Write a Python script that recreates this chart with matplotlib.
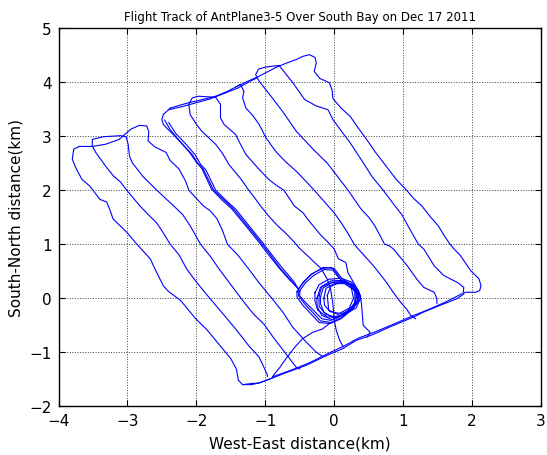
import numpy as np
import matplotlib
matplotlib.use("Agg")
import matplotlib.pyplot as plt

plt.rcParams['font.family'] = ['DejaVu Sans']

# flight track pieces (km)
line1 = [(-3.70, 2.81), (-3.78, 2.76), (-3.80, 2.57), (-3.74, 2.39), (-3.66, 2.20), (-3.55, 2.08),
         (-3.50, 2.00), (-3.40, 1.83), (-3.30, 1.78), (-3.25, 1.62), (-3.21, 1.47), (-3.01, 1.22),
         (-2.87, 1.01), (-2.67, 0.73), (-2.60, 0.54), (-2.48, 0.23), (-2.40, 0.12), (-2.23, -0.04),
         (-2.01, -0.38), (-1.85, -0.58), (-1.72, -0.78), (-1.50, -1.12), (-1.42, -1.31), (-1.39, -1.52),
         (-1.33, -1.60), (-1.20, -1.58), (-1.09, -1.57), (-0.90, -1.48)]

line4 = [(-3.70, 2.81), (-3.51, 2.81), (-3.32, 2.85), (-3.12, 2.94), (-2.95, 3.13), (-2.83, 3.20),
         (-2.72, 3.19), (-2.69, 3.08), (-2.70, 2.91), (-2.60, 2.80), (-2.44, 2.70), (-2.38, 2.55),
         (-2.25, 2.39), (-2.15, 2.15), (-2.11, 2.00), (-1.90, 1.71), (-1.80, 1.62), (-1.70, 1.47),
         (-1.62, 1.25), (-1.55, 1.00), (-1.40, 0.80), (-1.24, 0.54), (-1.10, 0.30), (-0.90, -0.01),
         (-0.75, -0.25), (-0.60, -0.54), (-0.43, -0.78), (-0.26, -1.00), (-0.18, -1.07)]

line23 = [(-0.97, -1.45), (-0.97, -1.42), (-1.02, -1.28), (-1.09, -1.09), (-1.24, -0.88), (-1.43, -0.57),
          (-1.62, -0.28), (-1.82, 0.02), (-2.00, 0.30), (-2.14, 0.54), (-2.25, 0.80), (-2.38, 1.00),
          (-2.50, 1.25), (-2.58, 1.40), (-2.70, 1.55), (-2.82, 1.71), (-3.01, 2.00), (-3.10, 2.15),
          (-3.20, 2.26), (-3.32, 2.45), (-3.46, 2.70), (-3.51, 2.82), (-3.51, 2.94), (-3.35, 2.99),
          (-3.10, 3.01), (-3.02, 2.99), (-2.99, 2.85), (-2.97, 2.63), (-2.93, 2.51), (-2.78, 2.26),
          (-2.59, 2.02), (-2.45, 1.85), (-2.33, 1.71), (-2.20, 1.55), (-2.09, 1.34), (-1.94, 1.00),
          (-1.80, 0.78), (-1.67, 0.54), (-1.50, 0.25), (-1.33, -0.04), (-1.18, -0.28), (-1.02, -0.48),
          (-0.87, -0.75), (-0.70, -1.03), (-0.55, -1.28), (-0.50, -1.31)]

transit_a = [(-2.38, 3.52), (-2.43, 3.46), (-2.48, 3.40), (-2.50, 3.31), (-2.48, 3.22), (-2.43, 3.15),
             (-2.35, 3.05), (-2.20, 2.85), (-2.06, 2.66), (-1.98, 2.50), (-1.90, 2.39), (-1.75, 2.00),
             (-1.60, 1.82), (-1.46, 1.65), (-1.26, 1.34), (-1.07, 1.04), (-0.92, 0.79), (-0.78, 0.55),
             (-0.62, 0.32), (-0.52, 0.17)]
transit_b = [(-2.40, 3.25), (-2.30, 3.05), (-2.15, 2.85), (-2.02, 2.66), (-1.94, 2.48), (-1.86, 2.37),
             (-1.72, 2.00), (-1.56, 1.80), (-1.43, 1.65), (-1.23, 1.33), (-1.04, 1.03), (-0.89, 0.78),
             (-0.74, 0.54), (-0.58, 0.30), (-0.50, 0.12)]
transit_c = [(-2.46, 3.30), (-2.38, 3.12), (-2.25, 2.92), (-2.10, 2.70), (-2.00, 2.52), (-1.92, 2.40),
             (-1.78, 2.02), (-1.63, 1.82), (-1.49, 1.66), (-1.29, 1.35), (-1.10, 1.05), (-0.95, 0.80),
             (-0.80, 0.56), (-0.64, 0.33), (-0.54, 0.20)]
transit_low = [(-0.05, -0.45), (-0.17, -0.57), (-0.31, -0.63), (-0.46, -0.75), (-0.58, -0.92),
               (-0.70, -1.12), (-0.80, -1.30), (-0.90, -1.46)]

edge_outer = [(-2.38, 3.52), (-2.25, 3.57), (-2.11, 3.62), (-1.97, 3.66), (-1.72, 3.74), (-1.55, 3.83),
              (-1.43, 3.91), (-1.25, 4.02), (-1.09, 4.11), (-0.85, 4.27), (-0.70, 4.35), (-0.55, 4.42),
              (-0.45, 4.48), (-0.36, 4.51), (-0.28, 4.46), (-0.26, 4.36), (-0.29, 4.20), (-0.21, 4.07),
              (-0.07, 3.99), (-0.03, 3.85), (-0.02, 3.70), (0.10, 3.52), (0.23, 3.37), (0.35, 3.15),
              (0.47, 2.94), (0.60, 2.70), (0.75, 2.45), (0.90, 2.20), (1.05, 2.00), (1.15, 1.85),
              (1.27, 1.71), (1.40, 1.50), (1.51, 1.34), (1.60, 1.15), (1.68, 1.00), (1.74, 0.91),
              (1.83, 0.79), (1.98, 0.51), (2.10, 0.36), (2.13, 0.23), (2.11, 0.14), (2.05, 0.11),
              (1.90, 0.11), (1.85, 0.05), (1.78, -0.01), (1.54, -0.13), (1.29, -0.26), (1.15, -0.35),
              (0.81, -0.53), (0.55, -0.68), (0.32, -0.78), (0.13, -0.93), (-0.16, -1.09), (-0.40, -1.24),
              (-0.70, -1.38), (-0.90, -1.48), (-1.09, -1.57), (-1.20, -1.60), (-1.33, -1.60)]
edge_nw_b = [(-2.40, 3.49), (-2.20, 3.55), (-2.00, 3.62), (-1.80, 3.69), (-1.60, 3.79), (-1.40, 3.89),
             (-1.20, 4.03), (-1.12, 4.08)]
edge_se_b = [(1.85, 0.08), (1.60, -0.08), (1.35, -0.22), (1.15, -0.32), (0.90, -0.46), (0.60, -0.62),
             (0.35, -0.74), (0.15, -0.88), (-0.10, -1.03), (-0.35, -1.19), (-0.60, -1.32), (-0.88, -1.45)]

line56 = [(0.13, -0.90), (0.08, -0.78), (0.03, -0.60), (0.00, -0.40), (-0.02, -0.10), (-0.05, 0.15),
          (-0.10, 0.35), (-0.19, 0.55), (-0.30, 0.68), (-0.39, 0.79), (-0.50, 0.92), (-0.58, 1.04),
          (-0.70, 1.20), (-0.82, 1.34), (-0.95, 1.52), (-1.07, 1.71), (-1.15, 1.85), (-1.24, 2.00),
          (-1.35, 2.20), (-1.53, 2.48), (-1.62, 2.68), (-1.72, 2.85), (-1.92, 3.09), (-2.00, 3.22),
          (-2.09, 3.40), (-2.11, 3.59), (-2.06, 3.71), (-1.97, 3.74), (-1.72, 3.72), (-1.65, 3.59),
          (-1.65, 3.34), (-1.60, 3.22), (-1.43, 3.03), (-1.36, 2.85), (-1.28, 2.66), (-1.10, 2.40),
          (-0.95, 2.20), (-0.85, 2.10), (-0.73, 2.00), (-0.58, 1.71), (-0.45, 1.58), (-0.39, 1.47),
          (-0.19, 1.16), (-0.10, 1.05), (0.00, 0.91), (0.06, 0.73), (0.17, 0.66), (0.20, 0.47),
          (0.30, 0.25), (0.38, 0.05), (0.40, -0.17), (0.42, -0.50), (0.52, -0.63), (0.48, -0.72)]

line7 = [(-1.43, 3.91), (-1.36, 3.96), (-1.31, 3.83), (-1.33, 3.71), (-1.28, 3.52), (-1.18, 3.38),
         (-1.09, 3.22), (-0.99, 2.97), (-0.85, 2.72), (-0.70, 2.52), (-0.55, 2.35), (-0.40, 2.15),
         (-0.29, 2.00), (-0.09, 1.71), (0.00, 1.58), (0.10, 1.40), (0.20, 1.20), (0.29, 1.00),
         (0.35, 0.91), (0.57, 0.60), (0.68, 0.42), (0.76, 0.29), (0.85, 0.12), (0.96, -0.07),
         (1.05, -0.20), (1.11, -0.32), (1.18, -0.38)]

line89 = [(1.49, -0.10), (1.49, -0.01), (1.45, 0.11), (1.30, 0.20), (1.20, 0.35), (1.06, 0.60),
          (0.86, 0.91), (0.80, 0.97), (0.73, 1.00), (0.59, 1.34), (0.50, 1.50), (0.39, 1.65),
          (0.20, 2.00), (0.05, 2.25), (-0.10, 2.50), (-0.30, 2.75), (-0.55, 3.09), (-0.75, 3.46),
          (-0.90, 3.71), (-1.09, 4.02), (-1.14, 4.14), (-1.10, 4.24), (-1.00, 4.28), (-0.80, 4.31),
          (-0.70, 4.15), (-0.60, 3.99), (-0.43, 3.68), (-0.26, 3.56), (-0.09, 3.49), (-0.02, 3.31),
          (0.10, 3.10), (0.23, 2.88), (0.40, 2.55), (0.55, 2.25), (0.71, 2.00), (0.88, 1.71),
          (0.98, 1.55), (1.07, 1.34), (1.22, 1.00), (1.30, 0.91), (1.45, 0.60), (1.59, 0.42),
          (1.79, 0.29), (1.88, 0.20), (1.87, 0.08)]

# circling over the centre
loop_outer = [(-0.52, 0.17), (-0.45, 0.30), (-0.32, 0.45), (-0.16, 0.57), (0.00, 0.55), (0.06, 0.45),
              (0.12, 0.35), (0.25, 0.25), (0.36, 0.12), (0.38, -0.02), (0.28, -0.18), (0.12, -0.35),
              (-0.05, -0.45), (-0.20, -0.42), (-0.30, -0.28), (-0.42, -0.12), (-0.52, 0.05), (-0.52, 0.17)]
loop_outer2 = [(-0.50, 0.14), (-0.42, 0.28), (-0.30, 0.42), (-0.15, 0.53), (-0.02, 0.52), (0.04, 0.42),
               (0.12, 0.31), (0.24, 0.22), (0.33, 0.10), (0.34, -0.03), (0.25, -0.17), (0.10, -0.32),
               (-0.05, -0.41), (-0.18, -0.38), (-0.28, -0.25), (-0.40, -0.10), (-0.50, 0.04), (-0.50, 0.14)]
loop_outer3 = [(-0.54, 0.12), (-0.46, 0.27), (-0.34, 0.44), (-0.18, 0.55), (-0.04, 0.57), (0.03, 0.47),
               (0.10, 0.33), (0.22, 0.24), (0.32, 0.14), (0.36, 0.00), (0.27, -0.20), (0.10, -0.38),
               (-0.06, -0.47), (-0.22, -0.45), (-0.33, -0.30), (-0.45, -0.14), (-0.54, 0.02), (-0.54, 0.12)]
loop1 = [(-0.22, 0.05), (-0.18, 0.22), (-0.05, 0.32), (0.12, 0.33), (0.28, 0.25), (0.33, 0.08),
         (0.30, -0.12), (0.18, -0.28), (0.02, -0.35), (-0.12, -0.30), (-0.22, -0.15), (-0.22, 0.05)]
loop2 = [(-0.28, 0.10), (-0.22, 0.25), (-0.08, 0.35), (0.10, 0.37), (0.25, 0.30), (0.35, 0.15),
         (0.35, -0.05), (0.25, -0.22), (0.08, -0.33), (-0.10, -0.35), (-0.24, -0.22), (-0.28, -0.05),
         (-0.28, 0.10)]
loop3 = [(-0.15, 0.00), (-0.12, 0.18), (0.00, 0.27), (0.15, 0.27), (0.25, 0.18), (0.28, 0.00),
         (0.22, -0.18), (0.08, -0.28), (-0.06, -0.25), (-0.14, -0.13), (-0.15, 0.00)]
loop4 = [(-0.25, 0.00), (-0.20, 0.20), (-0.02, 0.30), (0.18, 0.30), (0.30, 0.20), (0.38, 0.00),
         (0.32, -0.18), (0.15, -0.30), (-0.02, -0.40), (-0.18, -0.32), (-0.25, -0.15), (-0.25, 0.00)]
loop5 = [(-0.10, 0.05), (-0.05, 0.22), (0.10, 0.30), (0.22, 0.25), (0.30, 0.12), (0.30, -0.08),
         (0.20, -0.25), (0.05, -0.30), (-0.08, -0.22), (-0.10, 0.05)]
loop6 = [(-0.20, 0.02), (-0.16, 0.19), (-0.03, 0.29), (0.14, 0.31), (0.27, 0.22), (0.32, 0.04),
         (0.28, -0.15), (0.14, -0.31), (-0.02, -0.36), (-0.15, -0.26), (-0.20, -0.10), (-0.20, 0.02)]

segments = [line1, line4, line23, transit_a, transit_b, transit_c, transit_low, edge_outer,
            edge_nw_b, edge_se_b, line56, line7, line89, loop_outer, loop_outer2, loop_outer3,
            loop1, loop2, loop3, loop4, loop5, loop6]

x_ticks = [-4, -3, -2, -1, 0, 1, 2, 3]
y_ticks = [-2, -1, 0, 1, 2, 3, 4, 5]

fig = plt.figure(figsize=(5.47, 4.56), dpi=100)
ax = fig.add_axes([0.107, 0.107, 0.882, 0.829])

for seg in segments:
    xs, ys = zip(*seg)
    ax.plot(xs, ys, color=(0, 0, 1), linewidth=0.8)

ax.set_xlim(-4, 3)
ax.set_ylim(-2, 5)
ax.set_xticks(x_ticks)
ax.set_yticks(y_ticks)
ax.grid(True, color='0.25', linestyle=':', linewidth=0.7)
ax.tick_params(direction='in', length=4, top=True, right=True, labelsize=11, width=0.8, pad=5)
for sp in ax.spines.values():
    sp.set_linewidth(1.0)

ax.set_xlabel('West-East distance(km)', fontsize=11, labelpad=5)
ax.set_ylabel('South-North distance(km)', fontsize=11, labelpad=4)
ax.set_title('Flight Track of AntPlane3-5 Over South Bay on Dec 17 2011', fontsize=8.5, pad=6)

fig.savefig('out.png', dpi=100)
